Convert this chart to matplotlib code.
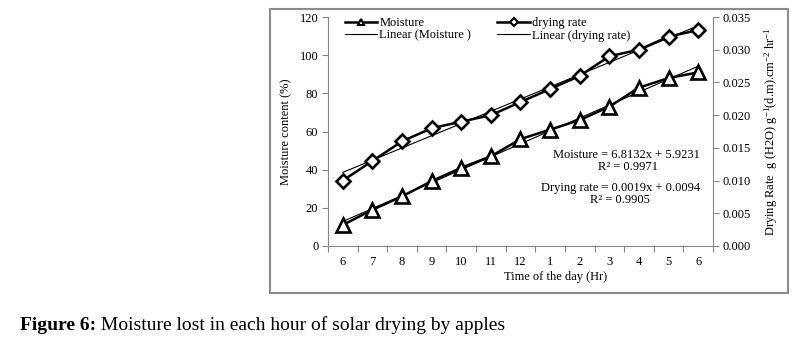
import numpy as np
import matplotlib
matplotlib.use("Agg")
import matplotlib.pyplot as plt
from matplotlib.patches import Rectangle
from matplotlib.lines import Line2D

# data
hours = ["6", "7", "8", "9", "10", "11", "12", "1", "2", "3", "4", "5", "6"]
moisture = [11, 19, 26, 34, 41, 47, 56, 61, 66, 73, 83, 88, 91]
drying_rate = [0.010, 0.013, 0.016, 0.018, 0.019, 0.020, 0.022,
               0.024, 0.026, 0.029, 0.030, 0.032, 0.033]
moisture_eq = "Moisture = 6.8132x + 5.9231"
moisture_r2 = "R² = 0.9971"
drying_eq = "Drying rate = 0.0019x + 0.0094"
drying_r2 = "R² = 0.9905"
caption_bold = "Figure 6:"
caption_text = " Moisture lost in each hour of solar drying by apples"

plt.rcParams['font.family'] = ['Liberation Serif', 'DejaVu Serif']
plt.rcParams['mathtext.fontset'] = 'custom'
plt.rcParams['mathtext.rm'] = 'Liberation Serif'
plt.rcParams['mathtext.it'] = 'Liberation Serif:italic'

W, H = 804, 344
fig = plt.figure(figsize=(W / 100, H / 100), dpi=100)

def fx(px):
    return px / W

def fy(py):
    return 1 - py / H

grey = '#868686'
fs = 9

# chart frame
fig.patches.append(Rectangle((fx(270), fy(293)), fx(788) - fx(270), fy(9) - fy(293),
                             transform=fig.transFigure, fill=False,
                             edgecolor='#8c8c8c', lw=1.5))

ax = fig.add_axes([fx(328), fy(246), fx(713) - fx(328), fy(17) - fy(246)])
ax2 = ax.twinx()

x = np.arange(1, len(hours) + 1)

# linear trend lines
mc = np.polyfit(x, moisture, 1)
dc = np.polyfit(x, drying_rate, 1)
ax.plot(x, np.polyval(mc, x), color='black', lw=0.8, zorder=2)
ax2.plot(x, np.polyval(dc, x), color='black', lw=0.8, zorder=2)

ax.plot(x, moisture, color='black', lw=1.8, marker='^', markersize=10,
        markerfacecolor='white', markeredgecolor='black', markeredgewidth=1.9, zorder=3)
ax2.plot(x, drying_rate, color='black', lw=1.8, marker='D', markersize=7,
         markerfacecolor='white', markeredgecolor='black', markeredgewidth=1.9, zorder=3)

ax.set_xlim(0.5, len(hours) + 0.5)
ax.set_ylim(0, 120)
ax.set_yticks(range(0, 121, 20))
ax2.set_ylim(0, 0.035)
ax2.set_yticks(np.arange(0, 0.0351, 0.005))
ax2.set_yticklabels([f"{v:.3f}" for v in np.arange(0, 0.0351, 0.005)])

ax.set_xticks(x)
ax.set_xticklabels(hours)
ax.set_xticks(np.arange(0.5, len(hours) + 1, 1), minor=True)
ax.tick_params(axis='x', which='major', length=0, pad=7, labelsize=fs)
ax.tick_params(axis='x', which='minor', length=4, color=grey, width=0.8)
ax.tick_params(axis='y', length=4, color=grey, width=0.8, labelsize=fs, pad=3)
ax2.tick_params(axis='y', length=4, color=grey, width=0.8, labelsize=fs, pad=3)

for a in (ax, ax2):
    a.spines['top'].set_visible(False)
    for s in ('left', 'right', 'bottom'):
        a.spines[s].set_color(grey)
        a.spines[s].set_linewidth(0.8)
ax2.spines['left'].set_visible(False)
ax2.spines['bottom'].set_visible(False)
ax.spines['right'].set_visible(False)

# x label sits a bit right of centre, as in the reference
ax.set_xlabel("Time of the day (Hr)", fontsize=fs)
ax.xaxis.set_label_coords((556 - 328) / (713 - 328), -0.11)
ax.set_ylabel("Moisture content (%)", fontsize=fs, labelpad=5)
ax2.set_ylabel("Drying Rate  g (H2O) g$^{-1}$(d.m).cm$^{-2}$ hr$^{-1}$", fontsize=fs, labelpad=8)

handles = [
    Line2D([], [], color='black', lw=1.8, marker='^', markersize=5,
           markerfacecolor='white', markeredgewidth=1.5),
    Line2D([], [], color='black', lw=0.8),
    Line2D([], [], color='black', lw=1.8, marker='D', markersize=4,
           markerfacecolor='white', markeredgewidth=1.5),
    Line2D([], [], color='black', lw=0.8),
]
labels = ["Moisture", "Linear (Moisture )", "drying rate", "Linear (drying rate)"]
ax.legend(handles, labels, ncol=2, loc='upper left', frameon=False,
          bbox_to_anchor=(fx(345), fy(17)), bbox_transform=fig.transFigure,
          fontsize=fs, handlelength=2.6, handletextpad=0.15, columnspacing=2.1,
          borderpad=0, borderaxespad=0, labelspacing=0.05)

fig.text(fx(700), fy(155), moisture_eq, ha='right', va='center', fontsize=fs)
fig.text(fx(628), fy(167), moisture_r2, ha='center', va='center', fontsize=fs)
fig.text(fx(700), fy(188), drying_eq, ha='right', va='center', fontsize=fs)
fig.text(fx(620), fy(200), drying_r2, ha='center', va='center', fontsize=fs)

t = fig.text(fx(20), fy(325), caption_bold, ha='left', va='center',
             fontsize=14, fontweight='bold')
fig.canvas.draw()
bb = t.get_window_extent()
fig.text(bb.x1 / W, fy(325), caption_text, ha='left', va='center', fontsize=14)

fig.savefig("out.png", dpi=100)
